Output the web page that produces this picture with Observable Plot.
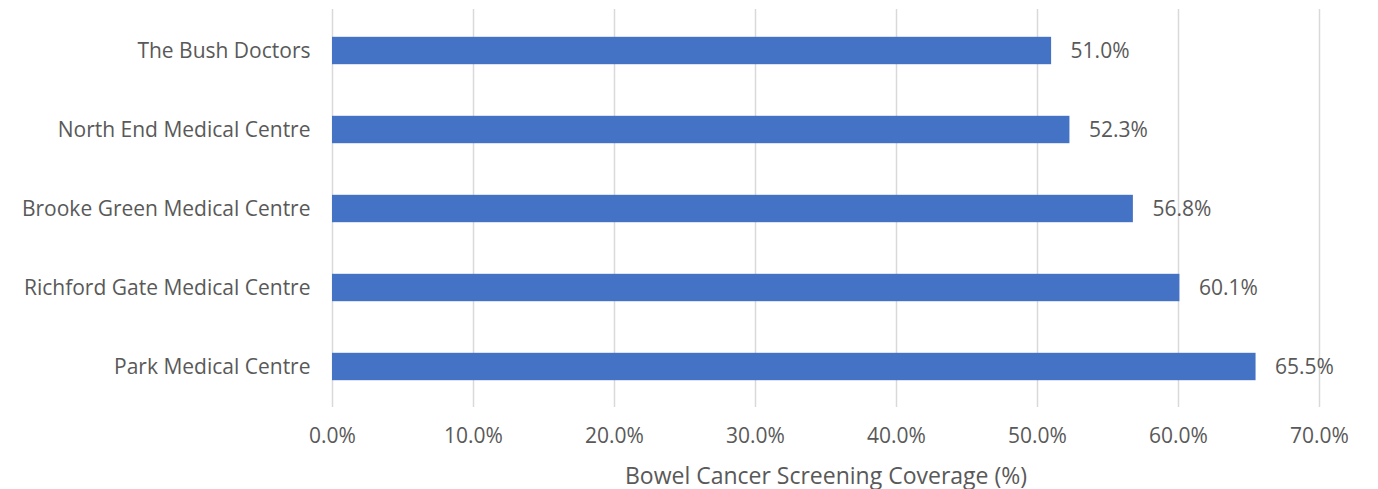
<!DOCTYPE html>
<html>
<head>
<meta charset="utf-8">
<script src="https://cdn.jsdelivr.net/npm/d3@7"></script>
<script src="https://cdn.jsdelivr.net/npm/@observablehq/plot@0.6"></script>
<style>
  body { margin: 0; background: #fff; }
  #chart svg { display: block; }
</style>
</head>
<body>
<div id="chart"></div>
<script>
const practices = ["The Bush Doctors", "North End Medical Centre", "Brooke Green Medical Centre", "Richford Gate Medical Centre", "Park Medical Centre"];
const coverage = [51.0, 52.3, 56.8, 60.1, 65.5];
const xTicks = [0, 10, 20, 30, 40, 50, 60, 70];
const xLabel = "Bowel Cancer Screening Coverage (%)";

const data = practices.map((p, i) => ({practice: p, value: coverage[i]}));
const font = "'Open Sans', sans-serif";
const textColor = "#595959";
const fs = 21;

const chart = Plot.plot({
  width: 1378,
  height: 489,
  marginLeft: 332,
  marginRight: 59,
  marginTop: 9,
  marginBottom: 82,
  style: {fontFamily: font, fontSize: fs + "px", color: textColor, background: "#fff"},
  x: {domain: [0, 70], ticks: xTicks, tickFormat: d => d.toFixed(1) + "%", label: null},
  y: {domain: practices, padding: 0, label: null},
  marks: [
    Plot.gridX(xTicks, {stroke: "#d9d9d9", strokeOpacity: 1, strokeWidth: 1.5}),
    Plot.axisX({ticks: xTicks, tickFormat: d => d.toFixed(1) + "%", tickSize: 0, tickPadding: 21, fontSize: fs, fill: textColor, label: null}),
    Plot.axisY({tickSize: 0, tickPadding: 22, fontSize: fs, fill: textColor, label: null}),
    Plot.barX(data, {y: "practice", x: "value", fill: "#4472c4", insetTop: 25.8, insetBottom: 25.8}),
    Plot.text(data, {y: "practice", x: "value", text: d => d.value.toFixed(1) + "%", textAnchor: "start", dx: 19, fontSize: fs, fill: textColor}),
    Plot.text([xLabel], {frameAnchor: "bottom", dy: 76, text: d => d, fontSize: 23, fill: textColor})
  ]
});
document.getElementById("chart").appendChild(chart);
</script>
</body>
</html>
